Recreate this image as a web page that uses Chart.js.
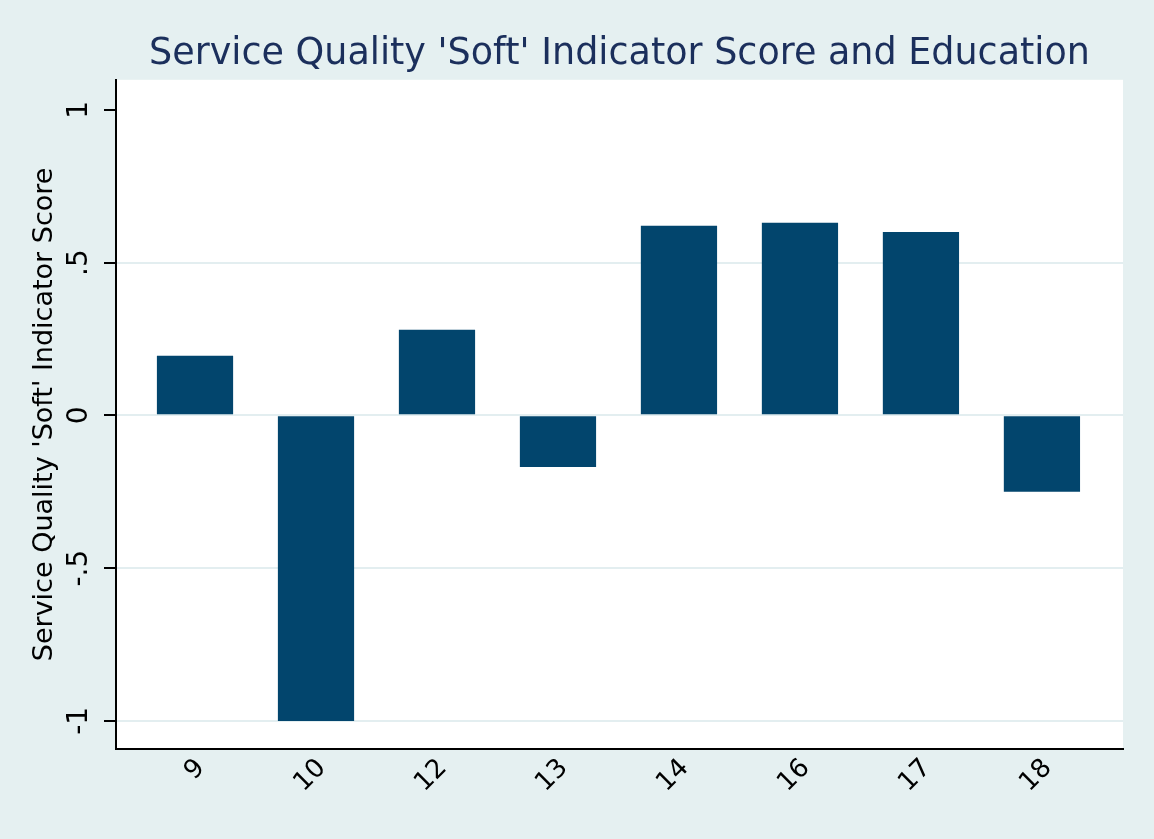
<!DOCTYPE html>
<html>
<head>
<meta charset="utf-8">
<script src="https://cdn.jsdelivr.net/npm/chart.js@4/dist/chart.umd.min.js"></script>
<style>
  body { margin: 0; background: #e5f0f1; }
  #wrap { width: 1154px; height: 839px; }
</style>
</head>
<body>
<div id="wrap"><canvas id="eduChart" width="1154" height="839"></canvas></div>
<script>
// education years (categories) and mean 'soft' indicator score
const educationLevels = ['9', '10', '12', '13', '14', '16', '17', '18'];
const softScores = [0.195, -1.0, 0.28, -0.169, 0.62, 0.63, 0.60, -0.25];
const yTickValues = [-1, -0.5, 0, 0.5, 1];
const yTickLabels = ['-1', '-.5', '0', '.5', '1'];

const bgColor = '#e5f0f1';
const gridColor = '#e3eef0';
const barColor = '#02456d';
const titleColor = '#1b2f5c';
const fontFamily = '"DejaVu Sans", sans-serif';

// paint outer background + white plot region
const backgroundPlugin = {
    id: 'stataBackground',
    beforeDraw(chart) {
        const ctx = chart.ctx;
        const a = chart.chartArea;
        ctx.save();
        ctx.fillStyle = bgColor;
        ctx.fillRect(0, 0, chart.width, chart.height);
        ctx.fillStyle = '#ffffff';
        ctx.fillRect(a.left, a.top, a.right - a.left, a.bottom - a.top);
        ctx.restore();
    }
};

const points = softScores.map((v, i) => ({ x: i, y: v }));

const ctx = document.getElementById('eduChart').getContext('2d');
new Chart(ctx, {
    type: 'bar',
    data: {
        datasets: [{
            label: 'Soft indicator score',
            data: points,
            backgroundColor: barColor,
            borderWidth: 0,
            barPercentage: 0.63,
            categoryPercentage: 1.0
        }]
    },
    options: {
        responsive: false,
        animation: false,
        layout: { padding: { left: 0, right: 31, top: 0, bottom: 0 } },
        plugins: {
            legend: { display: false },
            tooltip: { enabled: false },
            title: {
                display: true,
                fullSize: false,
                text: "Service Quality 'Soft' Indicator Score and Education",
                color: titleColor,
                font: { family: fontFamily, size: 36.5, weight: 'normal' },
                padding: { top: 33, bottom: 3 }
            }
        },
        scales: {
            x: {
                type: 'linear',
                offset: false,
                min: -0.653,
                max: 7.67,
                afterBuildTicks(scale) {
                    scale.ticks = educationLevels.map((c, i) => ({ value: i }));
                },
                afterFit(scale) { scale.height = 90; },
                grid: { display: false, drawTicks: false, offset: false },
                border: { display: true, color: '#000', width: 2 },
                ticks: {
                    autoSkip: false,
                    minRotation: 45,
                    maxRotation: 45,
                    padding: 4,
                    labelOffset: 6,
                    color: '#000',
                    font: { family: fontFamily, size: 26 },
                    callback: (v) => educationLevels[v]
                }
            },
            y: {
                min: -1.092,
                max: 1.098,
                afterBuildTicks(scale) {
                    scale.ticks = yTickValues.map(v => ({ value: v }));
                },
                afterFit(scale) { scale.width = 116; },
                grid: {
                    color: (c) => (c.tick && c.tick.value === 1) ? 'rgba(0,0,0,0)' : gridColor,
                    lineWidth: 2,
                    tickColor: '#000',
                    tickLength: 12,
                    tickWidth: 2
                },
                border: { display: true, color: '#000', width: 2 },
                ticks: {
                    minRotation: 90,
                    maxRotation: 90,
                    crossAlign: 'center',
                    padding: 6,
                    color: '#000',
                    font: { family: fontFamily, size: 28 },
                    callback: (v) => {
                        const i = yTickValues.indexOf(v);
                        return i >= 0 ? yTickLabels[i] : '';
                    }
                },
                title: {
                    display: true,
                    text: "Service Quality 'Soft' Indicator Score",
                    color: '#000',
                    font: { family: fontFamily, size: 27 },
                    padding: { top: 29, bottom: 0 }
                }
            }
        }
    },
    plugins: [backgroundPlugin]
});
</script>
</body>
</html>
